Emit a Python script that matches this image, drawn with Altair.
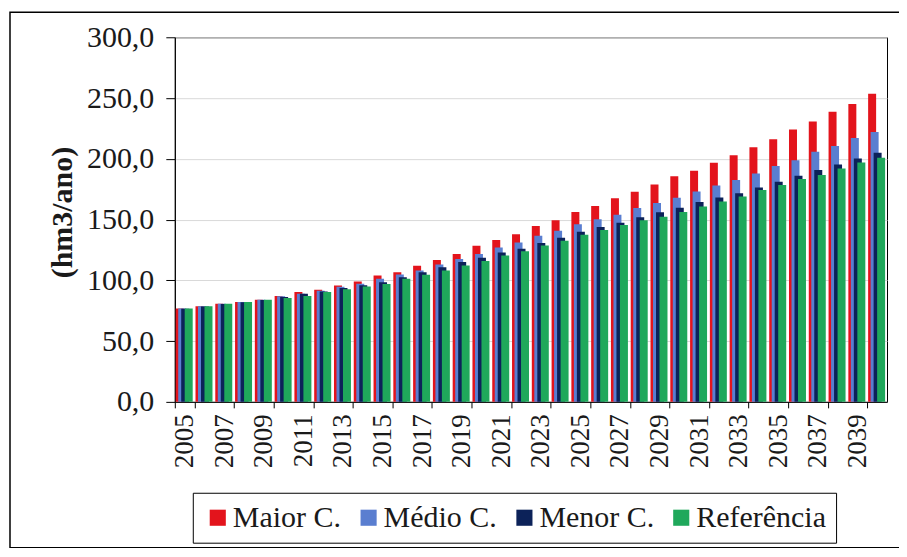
import altair as alt
import pandas as pd

years = list(range(2005, 2041))

maior = [76.8, 78.6, 80.8, 82.2, 84.1, 87.1, 90.3, 92.3, 95.8, 99.1, 104.0, 106.7,
         112.1, 116.8, 121.7, 128.5, 133.1, 138.0, 144.8, 149.5, 156.2, 161.2, 167.5, 172.8,
         178.9, 185.6, 190.2, 196.7, 203.0, 209.5, 216.0, 224.2, 230.7, 238.8, 245.1, 253.5]
medio = [76.8, 78.6, 80.8, 82.2, 84.1, 87.0, 89.0, 91.5, 94.8, 97.2, 101.3, 104.8,
         108.1, 113.0, 117.5, 121.7, 127.1, 131.2, 136.6, 140.7, 146.2, 150.3, 154.0, 159.6,
         163.7, 168.0, 173.1, 178.0, 182.6, 188.0, 194.0, 198.9, 205.7, 210.6, 217.1, 222.0]
menor = [76.6, 78.4, 80.6, 82.0, 83.9, 86.2, 89.0, 90.8, 93.6, 96.0, 98.5, 102.6,
         106.7, 110.8, 115.0, 118.5, 123.0, 126.0, 130.8, 135.0, 140.0, 143.8, 147.4, 152.0,
         156.0, 159.7, 164.4, 168.2, 171.7, 176.3, 181.2, 186.1, 190.7, 195.3, 200.2, 204.9]
referencia = [76.8, 78.6, 80.8, 82.2, 84.1, 85.4, 87.1, 90.3, 92.7, 95.0, 97.0, 101.3,
              104.6, 108.0, 112.3, 116.0, 120.5, 124.0, 128.7, 132.6, 137.5, 141.5, 145.5, 149.5,
              152.3, 156.3, 160.8, 164.9, 169.0, 174.4, 178.5, 183.4, 186.7, 192.1, 197.0, 200.8]

series_names = ["Maior C.", "Médio C.", "Menor C.", "Referência"]
series_colors = ["#E3141C", "#5A7ED0", "#0C2259", "#1FA85B"]
series_values = [maior, medio, menor, referencia]
y_ticks = [0, 50, 100, 150, 200, 250, 300]
x_label_years = [y for y in years if y % 2 == 1]

rows = []
for name, vals in zip(series_names, series_values):
    for yr, v in zip(years, vals):
        rows.append({"year": yr, "series": name, "value": v})
df = pd.DataFrame(rows)

FONT = "Liberation Serif"
TXT = "#1a1a1a"

base = alt.Chart(df).encode(
    x=alt.X("year:O", scale=alt.Scale(paddingInner=0, paddingOuter=0),
            axis=alt.Axis(values=x_label_years, tickBand="extent", labelAngle=-90,
                          labelFont=FONT, labelFontSize=27, labelColor=TXT,
                          tickColor="black", domainColor="black", tickSize=6,
                          labelPadding=6, grid=False, title=None)),
    y=alt.Y("value:Q", scale=alt.Scale(domain=[0, 300], nice=False),
            axis=alt.Axis(values=y_ticks,
                          labelExpr="replace(format(datum.value, '.1f'), '.', ',')",
                          labelFont=FONT, labelFontSize=30, labelColor=TXT,
                          tickColor="black", domainColor="black", tickSize=9,
                          labelPadding=12, gridColor="#D9D9D9",
                          title="(hm3/ano)", titleFont=FONT, titleFontSize=30,
                          titleFontWeight="bold", titleColor=TXT,
                          titleX=-97, titleY=175)),
    color=alt.Color("series:N", title=None,
                    scale=alt.Scale(domain=series_names, range=series_colors),
                    legend=alt.Legend(orient="none", legendX=18, legendY=456,
                                      direction="horizontal", strokeColor="black",
                                      padding=10, symbolType="square", symbolSize=260,
                                      symbolStrokeWidth=0, labelFont=FONT,
                                      labelFontSize=30, labelColor=TXT, labelOffset=0,
                                      columnPadding=12, labelLimit=400)),
)

offsets = [-5, -2.5, 0.5, 4]
layers = []
for name, off in zip(series_names, offsets):
    layers.append(
        base.transform_filter(alt.datum.series == name)
        .mark_bar(width=8, xOffset=off)
    )

frame = alt.Chart(pd.DataFrame({"k": [0]})).mark_rect(
    fillOpacity=0, stroke="black", strokeWidth=1.5
).encode(x=alt.value(-165), x2=alt.value(726), y=alt.value(-25), y2=alt.value(511))

chart = alt.layer(*layers, frame).properties(
    width=713, height=365,
    autosize=alt.AutoSizeParams(type="none"),
    padding={"left": 167, "top": 29, "right": 12, "bottom": 146},
    background="white",
).configure_view(stroke="black", strokeWidth=1).configure_legend(
    labelFont=FONT, symbolSize=260
)

chart.save("out.html", embed_options={"renderer": "svg", "actions": False})
